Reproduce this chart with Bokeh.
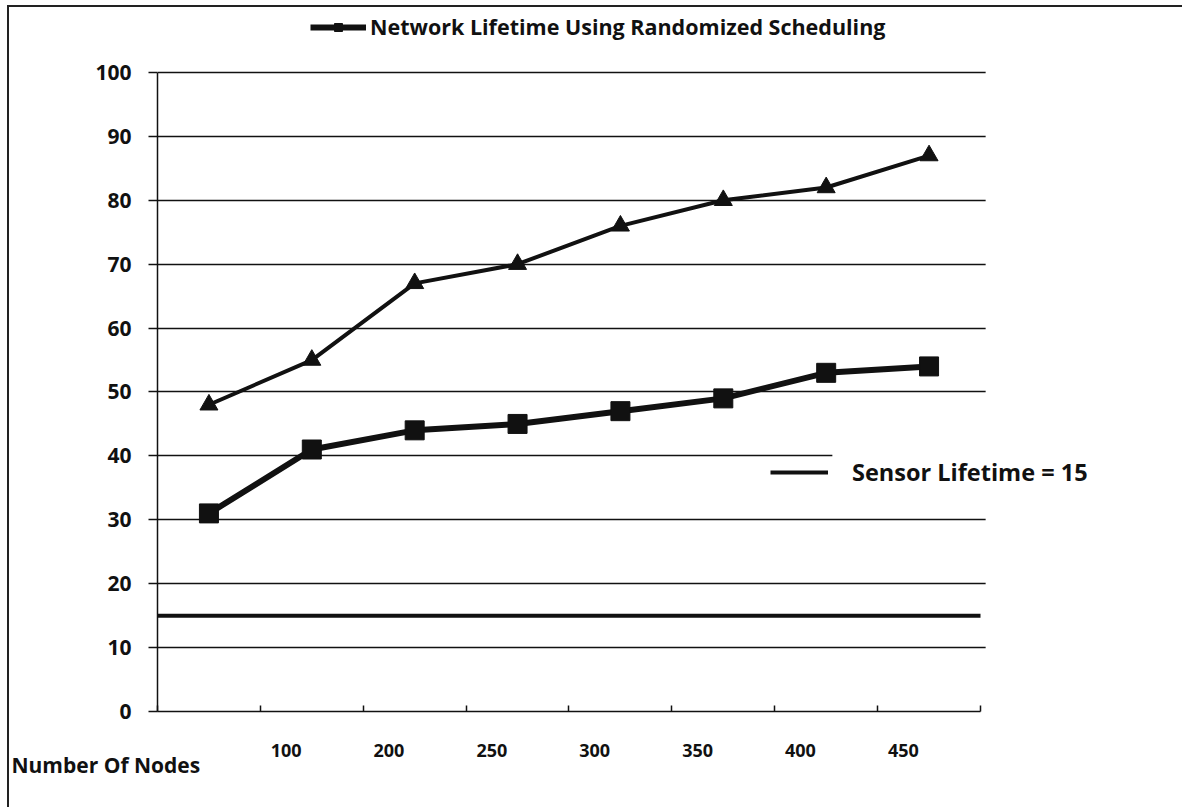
from bokeh.plotting import figure
from bokeh.models import (Range1d, LinearAxis, FixedTicker, Legend, LegendItem, Title,
                          BoxAnnotation)
from bokeh.embed import file_html
from bokeh.resources import INLINE

# ---- data ----
categories = ["Number Of Nodes", "100", "200", "250", "300", "350", "400", "450"]
randomized = [31, 41, 44, 45, 47, 49, 53, 54]
other_series = [48, 55, 67, 70, 76, 80, 82, 87]
sensor_lifetime = 15
y_ticks = [0, 10, 20, 30, 40, 50, 60, 70, 80, 90, 100]

n = len(categories)
xpos = [i + 0.5 for i in range(n)]           # category centres
boundaries = list(range(n + 1))              # category boundaries
label_pos = [x - 0.25 for x in xpos[1:]]     # labels sit a bit left of centres, as in the scan

FONT = "Open Sans"
INK = "#111111"

# frame spans from the y axis to the right edge; the area right of the chart is masked white
p = figure(width=1175, height=802, x_range=Range1d(0, 9.983), y_range=Range1d(0, 110.17),
           output_backend="svg", toolbar_location=None,
           min_border_left=148, min_border_right=0, min_border_top=0, min_border_bottom=98)
p.margin = (5, 0, 0, 7)
p.styles = {"border-top": "2px solid #222222", "border-left": "2px solid #222222"}
p.outline_line_color = None
p.background_fill_color = "white"
p.border_fill_color = "white"

# bottom axis: line + boundary tick marks
p.xaxis.ticker = FixedTicker(ticks=boundaries)
p.xaxis.bounds = (0, n)
p.xaxis.major_label_text_color = None
p.xaxis.major_label_text_font_size = "1px"
p.xaxis.major_label_standoff = 0
p.xaxis.major_tick_in = 6
p.xaxis.major_tick_out = 0
p.xaxis.minor_tick_line_color = None
p.xaxis.axis_line_color = INK
p.xaxis.axis_line_width = 1.5
p.xaxis.major_tick_line_color = INK
p.xaxis.major_tick_line_width = 1.5

# label axis (category names)
lab_axis = LinearAxis(ticker=FixedTicker(ticks=label_pos),
                      major_label_overrides={pos: lab for pos, lab in zip(label_pos, categories[1:])})
lab_axis.axis_line_color = None
lab_axis.major_tick_line_color = None
lab_axis.minor_tick_line_color = None
lab_axis.major_label_standoff = 26
lab_axis.major_label_text_font = FONT
lab_axis.major_label_text_font_style = "bold"
lab_axis.major_label_text_font_size = "18px"
lab_axis.major_label_text_color = INK
p.add_layout(lab_axis, "below")

p.add_layout(Title(text=categories[0], align="left", offset=-146, standoff=-22,
                   text_font=FONT, text_font_style="bold", text_font_size="21px",
                   text_color=INK), "below")

p.yaxis.ticker = FixedTicker(ticks=y_ticks)
p.yaxis.bounds = (0, 100)
p.yaxis.major_tick_in = 0
p.yaxis.major_tick_out = 9
p.yaxis.minor_tick_line_color = None
p.yaxis.axis_line_color = INK
p.yaxis.axis_line_width = 1.5
p.yaxis.major_tick_line_color = INK
p.yaxis.major_tick_line_width = 1.5
p.yaxis.major_label_standoff = 17
p.yaxis.major_label_text_font = FONT
p.yaxis.major_label_text_font_style = "bold"
p.yaxis.major_label_text_font_size = "21px"
p.yaxis.major_label_text_color = INK

p.xgrid.visible = False
p.ygrid.ticker = FixedTicker(ticks=y_ticks)
p.ygrid.grid_line_color = INK
p.ygrid.grid_line_width = 1.5

# sensor lifetime line across the chart area
sensor_r = p.line(x=[boundaries[0], boundaries[-1]], y=[sensor_lifetime, sensor_lifetime],
                  line_color=INK, line_width=4)

# series
tri_line = p.line(xpos, other_series, line_color=INK, line_width=4)
tri_pts = p.scatter(xpos, other_series, marker="triangle", size=18,
                    fill_color=INK, line_color=INK)
sq_line = p.line(xpos, randomized, line_color=INK, line_width=6)
sq_pts = p.scatter(xpos, randomized, marker="square", size=19,
                   fill_color=INK, line_color=INK)

# white masks: right of the chart area, and behind the sensor legend
p.add_layout(BoxAnnotation(left=n + 0.05, fill_color="white", fill_alpha=1, line_color=None))
p.add_layout(BoxAnnotation(left=6.56, bottom=37.5, top=42.5,
                           fill_color="white", fill_alpha=1, line_color=None))

leg1 = Legend(items=[LegendItem(label="Network Lifetime Using Randomized Scheduling",
                                renderers=[sq_line, sq_pts])],
              location=(153, 670), orientation="horizontal",
              glyph_width=56, glyph_height=20, label_standoff=4, padding=0, margin=0,
              label_text_font=FONT, label_text_font_style="bold", label_text_font_size="21.5px",
              label_text_color=INK, background_fill_alpha=0, border_line_color=None)
leg2 = Legend(items=[LegendItem(label="Sensor Lifetime = 15", renderers=[sensor_r])],
              location=(613, 223), orientation="horizontal",
              glyph_width=58, glyph_height=20, label_standoff=24, padding=0, margin=0,
              label_text_font=FONT, label_text_font_style="bold", label_text_font_size="23.5px",
              label_text_color=INK, background_fill_alpha=0, border_line_color=None)
p.add_layout(leg1, "center")
p.add_layout(leg2, "center")

open("out.html", "w").write(file_html(p, INLINE))
